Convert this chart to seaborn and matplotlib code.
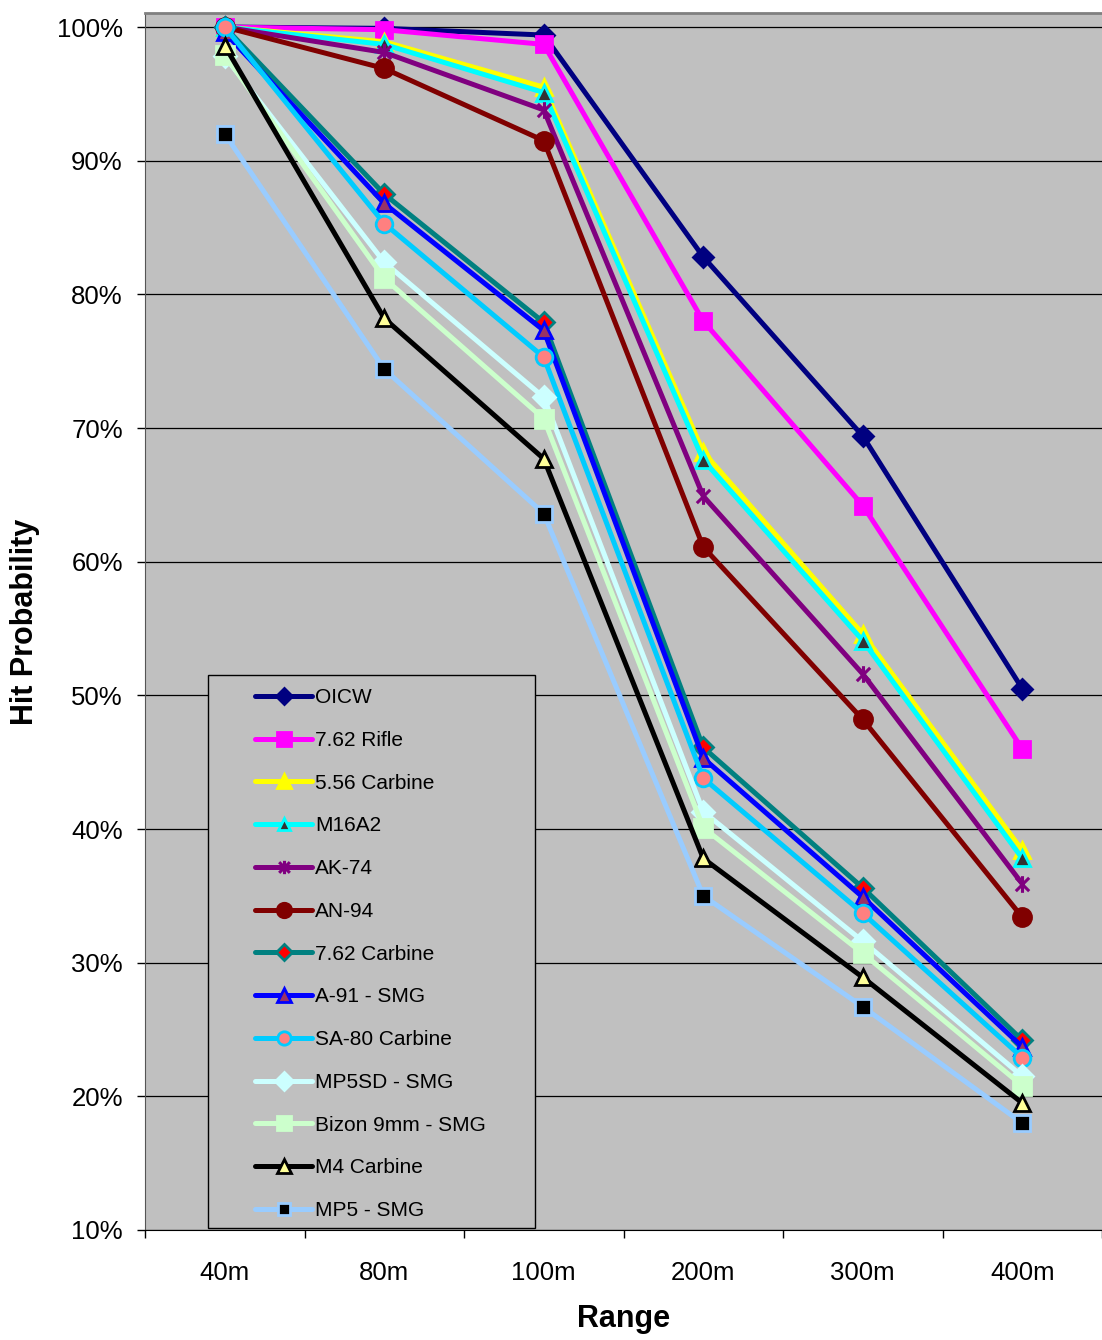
import matplotlib
matplotlib.use('Agg')
import matplotlib.pyplot as plt
import seaborn as sns
import numpy as np
from matplotlib.path import Path
from matplotlib.patches import Rectangle

ranges = ['40m', '80m', '100m', '200m', '300m', '400m']

oicw = [100.0, 99.9, 99.4, 82.8, 69.4, 50.5]
rifle_762 = [100.0, 99.8, 98.7, 78.0, 64.2, 46.0]
carbine_556 = [100.0, 98.9, 95.5, 68.2, 54.6, 38.4]
m16a2 = [100.0, 98.7, 95.1, 67.6, 54.1, 37.8]
ak74 = [100.0, 98.1, 93.8, 64.9, 51.6, 35.9]
an94 = [100.0, 96.9, 91.5, 61.1, 48.2, 33.4]
carbine_762 = [100.0, 87.5, 77.9, 46.1, 35.6, 24.2]
a91 = [99.6, 86.8, 77.3, 45.3, 34.9, 23.7]
sa80 = [100.0, 85.3, 75.3, 43.8, 33.7, 22.9]
mp5sd = [97.8, 82.4, 72.3, 41.3, 31.6, 21.5]
bizon = [97.9, 81.2, 70.7, 40.1, 30.7, 20.8]
m4 = [98.6, 78.2, 67.7, 37.8, 28.9, 19.5]
mp5 = [92.0, 74.4, 63.6, 35.0, 26.7, 18.0]

# Excel style star: vertical bar plus an X
star = Path([(0, -1), (0, 1), (-0.8, -0.8), (0.8, 0.8), (-0.8, 0.8), (0.8, -0.8)],
            [Path.MOVETO, Path.LINETO, Path.MOVETO, Path.LINETO, Path.MOVETO, Path.LINETO])

# name, values, line colour, marker, size, face, edge
series = [
    ('OICW', oicw, '#000080', 'D', 10, '#000080', '#000080'),
    ('7.62 Rifle', rifle_762, '#FF00FF', 's', 12, '#FF00FF', '#FF00FF'),
    ('5.56 Carbine', carbine_556, '#FFFF00', '^', 12, '#FFFF00', '#FFFF00'),
    ('M16A2', m16a2, '#00FFFF', '^', 11, '#333333', '#00FFFF'),
    ('AK-74', ak74, '#800080', star, 12, 'none', '#800080'),
    ('AN-94', an94, '#800000', 'o', 13, '#800000', '#800000'),
    ('7.62 Carbine', carbine_762, '#008080', 'D', 10, '#FF0000', '#008080'),
    ('A-91 - SMG', a91, '#0000FF', '^', 12, '#993366', '#0000FF'),
    ('SA-80 Carbine', sa80, '#00CCFF', 'o', 12, '#FF8080', '#00CCFF'),
    ('MP5SD - SMG', mp5sd, '#CCFFFF', 'D', 11, '#CCFFFF', '#CCFFFF'),
    ('Bizon 9mm - SMG', bizon, '#CCFFCC', 's', 13, '#CCFFCC', '#CCFFCC'),
    ('M4 Carbine', m4, '#000000', '^', 12, '#FFFF99', '#000000'),
    ('MP5 - SMG', mp5, '#99CCFF', 's', 11, '#000000', '#99CCFF'),
]

sns.set_style('white')
plt.rcParams['font.family'] = ['Liberation Sans', 'DejaVu Sans']
plt.rcParams['text.color'] = 'black'
plt.rcParams['axes.labelcolor'] = 'black'
plt.rcParams['xtick.color'] = 'black'
plt.rcParams['ytick.color'] = 'black'

fig = plt.figure(figsize=(11.02, 13.40), dpi=100)
ax = fig.add_axes([0.1316, 0.0821, 0.8684, 0.9082])
ax.set_facecolor('#C0C0C0')

for name, vals, col, mk, ms, fc, ec in series:
    mew = 2.2 if mk is star else 2.0
    sns.lineplot(x=ranges, y=vals, ax=ax, sort=False, color=col, lw=3.6,
                 marker=mk, markersize=ms, markerfacecolor=fc,
                 markeredgecolor=ec, markeredgewidth=mew, label=name, legend=False)

ax.set_xlim(-0.5, 5.5)
ax.set_ylim(10, 101.05)
ax.set_yticks(np.arange(10, 101, 10))
ax.set_yticklabels([f'{v}%' for v in range(10, 101, 10)])
ax.yaxis.grid(True, color='black', lw=0.9)
ax.set_axisbelow(True)

ax.set_xticks(range(len(ranges)))
ax.set_xticklabels(ranges)
ax.set_xticks(np.arange(-0.5, 5.6, 1), minor=True)
ax.tick_params(axis='x', which='major', length=0, pad=22, labelsize=18.5)
ax.tick_params(axis='x', which='minor', length=6, width=1, direction='out', bottom=True)
ax.tick_params(axis='y', length=6, width=1, direction='out', left=True, pad=10, labelsize=18.5)

for side in ['left', 'bottom', 'top']:
    ax.spines[side].set_visible(True)
ax.spines['right'].set_visible(False)
ax.spines['left'].set_color('#555555')
ax.spines['bottom'].set_color('black')
ax.spines['top'].set_color('#808080')
ax.spines['top'].set_linewidth(2)

ax.set_xlabel('Range', fontsize=22, fontweight='bold', labelpad=14)
ax.set_ylabel('Hit Probability', fontsize=22, fontweight='bold', labelpad=12)

ax.add_patch(Rectangle((0.0658, 0.0016), 0.3417, 0.4544, transform=ax.transAxes,
                       facecolor='#C0C0C0', edgecolor='black', lw=1, zorder=4))
handles, labels = ax.get_legend_handles_labels()
leg = ax.legend(handles, labels, loc='upper left', bbox_to_anchor=(0.1149, 0.4453),
                frameon=False, borderpad=0, borderaxespad=0, fontsize=15,
                handlelength=2.74, handletextpad=0.15, labelspacing=1.14,
                markerscale=0.8)
leg.set_zorder(5)

fig.savefig('out.png', dpi=100)
